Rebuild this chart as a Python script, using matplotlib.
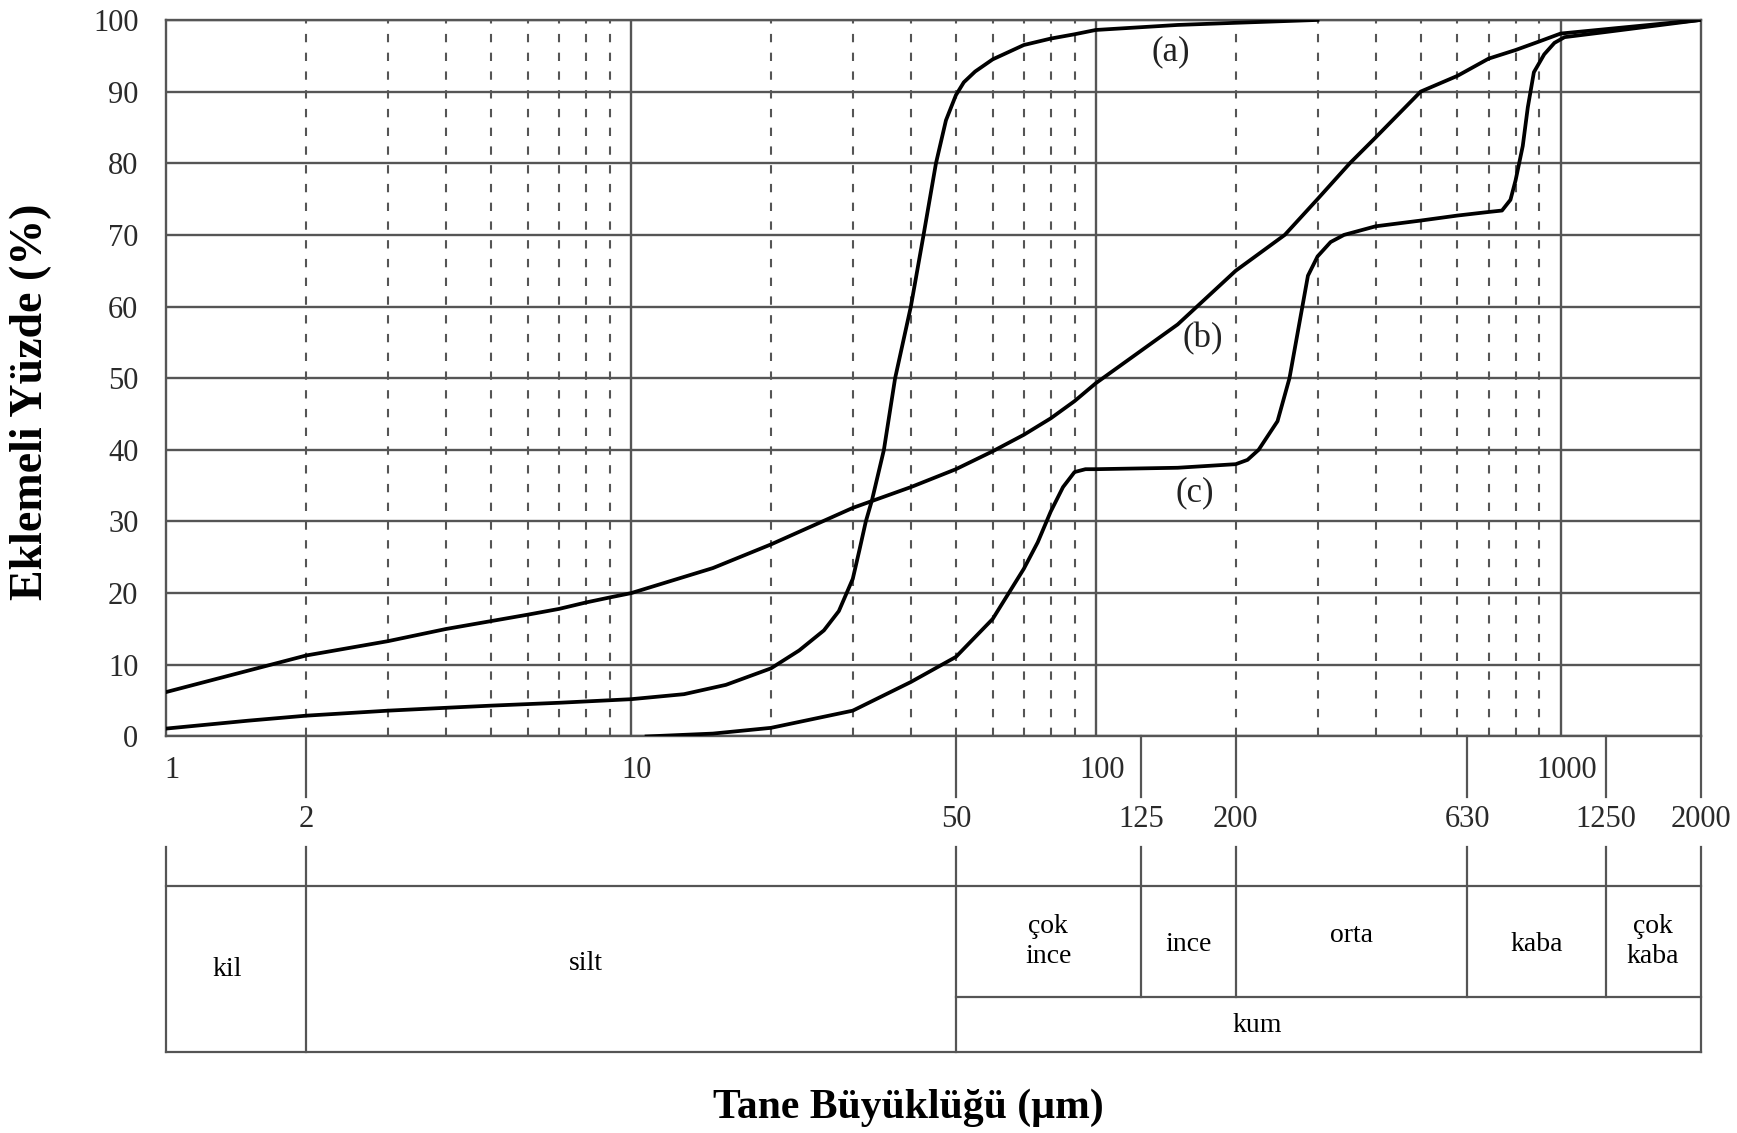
import matplotlib.pyplot as plt
import numpy as np

plt.rcParams['font.family'] = ['Liberation Serif', 'DejaVu Serif']

# ---- curve data ----
x_a = [1, 1.5, 2, 3, 4, 5, 7, 10, 13, 16, 20, 23, 26, 28, 30, 31, 32, 33, 35, 37,
       40, 42.6, 45.3, 47.6, 50, 52, 55, 60, 70, 80, 90, 100, 150, 200, 300]
y_a = [1.1, 2.2, 2.9, 3.6, 4.0, 4.3, 4.7, 5.2, 5.9, 7.2, 9.5, 12, 14.8, 17.5, 22,
       26, 30, 33, 40, 50, 60, 70, 80, 86, 89.5, 91.3, 92.8, 94.5, 96.5, 97.4, 98,
       98.6, 99.3, 99.6, 100]

x_b = [1, 2, 3, 4, 5, 6, 7, 8, 9, 10, 15, 20, 30, 40, 50, 60, 70, 80, 90, 100,
       150, 200, 255, 300, 352, 400, 500, 600, 700, 800, 900, 1000, 2000]
y_b = [6.2, 11.3, 13.3, 15.0, 16.1, 17.0, 17.8, 18.7, 19.4, 20, 23.5, 26.8, 31.9,
       34.8, 37.3, 39.8, 42.1, 44.4, 46.8, 49.3, 57.5, 65, 70, 75, 80, 83.6, 90,
       92.2, 94.6, 95.8, 97, 98.1, 100]

x_c = [10.8, 15, 20, 30, 40, 50, 60, 70, 75, 80, 85, 90, 95, 100, 150, 200, 212,
       224, 246, 261, 277, 286, 300, 320, 342, 400, 500, 600, 700, 748, 780, 800,
       829, 850, 876, 922, 970, 1020, 1245, 2000]
y_c = [0, 0.4, 1.2, 3.6, 7.6, 11.1, 16.4, 23.4, 27.1, 31.4, 34.8, 36.9, 37.3, 37.3,
       37.5, 38, 38.6, 40, 44, 50, 59.3, 64.3, 67, 69, 70, 71.2, 72, 72.7, 73.2,
       73.4, 74.9, 77.6, 82.4, 87.8, 92.7, 95.2, 96.8, 97.6, 98.3, 100]

curve_names = ['(a)', '(b)', '(c)']

y_ticks = list(range(0, 101, 10))
row1_ticks = [1, 10, 100, 1000]
row2_ticks = [2, 50, 125, 200, 630, 1250, 2000]
full_bounds = [1, 2, 50, 2000]
sand_bounds = [125, 200, 630, 1250]

fig = plt.figure(figsize=(17.37, 11.33), dpi=100)
ax = fig.add_axes([0.0957, 0.350, 0.8833, 0.6324])
ax.set_xscale('log')
ax.set_xlim(1, 2000)
ax.set_ylim(0, 100)

grid_col = '#555555'
# horizontal grid
for v in y_ticks:
    ax.axhline(v, color=grid_col, lw=1.7, zorder=1)
# vertical grid: solid at decades, dashed in between
for v in [10, 100, 1000]:
    ax.axvline(v, color=grid_col, lw=1.7, zorder=1)
minor = [m * d for d in [1, 10, 100] for m in range(2, 10)]
for v in minor:
    ax.axvline(v, color=grid_col, lw=1.5, ls=(0, (4, 5)), zorder=1)

for s in ax.spines.values():
    s.set_color(grid_col)
    s.set_linewidth(1.7)

# curves
for xs, ys in [(x_a, y_a), (x_b, y_b), (x_c, y_c)]:
    ax.plot(xs, ys, color='black', lw=2.7, zorder=3, solid_joinstyle='round')

lab_kw = dict(fontsize=25, ha='center', va='center', color='#222')
ax.text(145, 95.5, curve_names[0], **lab_kw)
ax.text(170, 55.5, curve_names[1], **lab_kw)
ax.text(163, 34, curve_names[2], **lab_kw)

ax.set_yticks(y_ticks)
ax.set_yticklabels([str(v) for v in y_ticks], fontsize=22, color='#2a2a2a')
ax.tick_params(axis='y', length=0, pad=20)
ax.set_xticks([])
ax.set_xticks([], minor=True)

tr = ax.get_xaxis_transform()
# first row of x labels
for v in row1_ticks:
    ax.text(v * 1.03, -0.047, str(v), transform=tr, fontsize=22, color='#2a2a2a',
            ha='center', va='center')
# long ticks and second row labels
for v in row2_ticks:
    ax.plot([v, v], [0, -0.085], transform=tr, color=grid_col, lw=1.6, clip_on=False)
    ax.text(v, -0.116, str(v), transform=tr, fontsize=22, color='#2a2a2a',
            ha='center', va='center')

# classification table
y_top, y_mid, y_bot, y_start = -0.2087, -0.363, -0.4405, -0.1546
for v in full_bounds:
    ax.plot([v, v], [y_start, y_bot], transform=tr, color=grid_col, lw=1.6, clip_on=False)
for v in sand_bounds:
    ax.plot([v, v], [y_start, y_mid], transform=tr, color=grid_col, lw=1.6, clip_on=False)
ax.plot([1, 2000], [y_top, y_top], transform=tr, color=grid_col, lw=1.6, clip_on=False)
ax.plot([50, 2000], [y_mid, y_mid], transform=tr, color=grid_col, lw=1.6, clip_on=False)
ax.plot([1, 2000], [y_bot, y_bot], transform=tr, color=grid_col, lw=1.6, clip_on=False)

cell_kw = dict(transform=tr, fontsize=20, ha='center', va='center', color='black',
               linespacing=1.25)
ax.text(1.35, -0.325, 'kil', **cell_kw)
ax.text(8, -0.317, 'silt', **cell_kw)
ax.text(np.sqrt(50 * 125), -0.286, 'çok\nince', **cell_kw)
ax.text(np.sqrt(125 * 200), -0.290, 'ince', **cell_kw)
ax.text(np.sqrt(200 * 630), -0.278, 'orta', **cell_kw)
ax.text(np.sqrt(630 * 1250), -0.290, 'kaba', **cell_kw)
ax.text(np.sqrt(1250 * 2000), -0.286, 'çok\nkaba', **cell_kw)
ax.text(222, -0.403, 'kum', **cell_kw)

fig.text(0.523, 0.022, 'Tane Büyüklüğü (µm)', fontsize=30, fontweight='bold',
         ha='center', va='center')
fig.text(0.018, 0.645, 'Eklemeli Yüzde (%)', fontsize=33, fontweight='bold',
         rotation=90, ha='center', va='center')

fig.savefig('out.png', dpi=100)
